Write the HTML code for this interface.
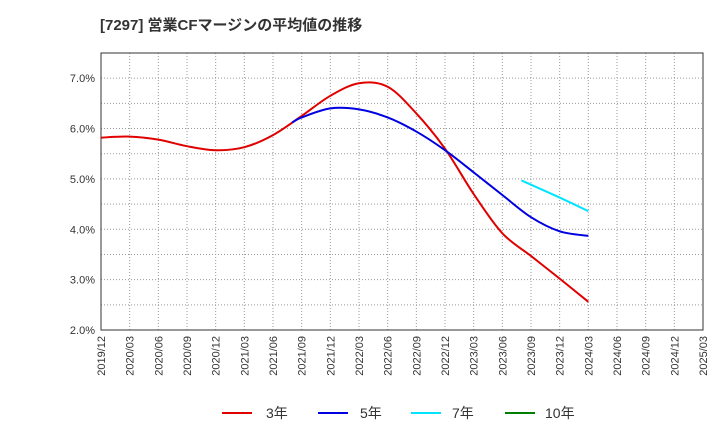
<!DOCTYPE html>
<html><head><meta charset="utf-8"><style>
body{margin:0;background:#fff;font-family:"Liberation Sans","Noto Sans CJK JP",sans-serif;}
</style></head><body>
<svg id="chart" width="720" height="440" xmlns="http://www.w3.org/2000/svg" font-family="Liberation Sans, Noto Sans CJK JP, sans-serif">
<text x="100" y="30" font-size="15" font-weight="bold" fill="#333">[7297]  営業CFマージンの平均値の推移</text>
<g id="grid"></g><g id="axes"></g><g id="series"></g>
<g font-size="14" fill="#333">
<line x1="222" y1="413" x2="252" y2="413" stroke="#e00000" stroke-width="2"/><text x="266" y="418">3年</text>
<line x1="318" y1="413" x2="348" y2="413" stroke="#0000e0" stroke-width="2"/><text x="360" y="418">5年</text>
<line x1="411" y1="413" x2="441" y2="413" stroke="#00e5ff" stroke-width="2"/><text x="452" y="418">7年</text>
<line x1="505" y1="413" x2="535" y2="413" stroke="#008000" stroke-width="2"/><text x="545" y="418">10年</text>
</g>
</svg>
<script>
const xLabels=["2019/12","2020/03","2020/06","2020/09","2020/12","2021/03","2021/06","2021/09","2021/12","2022/03","2022/06","2022/09","2022/12","2023/03","2023/06","2023/09","2023/12","2024/03","2024/06","2024/09","2024/12","2025/03"];
const yTicks=[2,3,4,5,6,7];
// month offsets from 2019/12
const red3Months=[0,3,6,9,12,15,18,21,24,27,30,33,36,39,42,45,48,51];
const red3Values=[5.82,5.84,5.78,5.65,5.57,5.63,5.87,6.25,6.65,6.9,6.83,6.3,5.6,4.7,3.92,3.47,3.02,2.56];
const blue5Months=[20,21,24,27,30,33,36,39,42,45,48,51];
const blue5Values=[6.12,6.22,6.4,6.38,6.22,5.94,5.57,5.13,4.68,4.24,3.96,3.87];
const cyan7Months=[44,48,51];
const cyan7Values=[4.97,4.63,4.36];
const L=101,R=703,T=53,B=330,ymin=2,ymax=7.5;
const xs=m=>L+m*(R-L)/63;
const ys=v=>B-(v-ymin)*(B-T)/(ymax-ymin);
const NS="http://www.w3.org/2000/svg";
function mk(tag,parent,attrs){const e=document.createElementNS(NS,tag);for(const k in attrs)e.setAttribute(k,attrs[k]);document.getElementById(parent).appendChild(e);return e;}
for(let i=0;i<xLabels.length;i++){const x=xs(i*3);
const g=mk('line','grid',{x1:x,x2:x,y1:T,y2:B,stroke:'#999','stroke-dasharray':'1,2','stroke-width':1});


const t=mk('text','axes',{x:0,y:0,'font-size':11,fill:'#333','text-anchor':'end',transform:`translate(${x+4},${B+6}) rotate(-90)`});


t.textContent=xLabels[i];}
for(let v=2.5;v<7.5;v+=0.5){const y=ys(v);
const g=mk('line','grid',{x1:L,x2:R,y1:y,y2:y,stroke:'#999','stroke-dasharray':'1,2','stroke-width':1});

}
yTicks.forEach(v=>{const t=mk('text','axes',{x:L-6,y:ys(v)+4,'font-size':11,fill:'#333','text-anchor':'end'});


t.textContent=v.toFixed(1)+'%';});
const fr=mk('rect','axes',{x:L,y:T,width:R-L,height:B-T,fill:'none',stroke:'#333','stroke-width':1});


function path(ms,vs){const p=ms.map((m,i)=>[xs(m),ys(vs[i])]);let d=`M${p[0][0]},${p[0][1]}`;
for(let i=0;i<p.length-1;i++){const p0=p[i-1]||p[i],p1=p[i],p2=p[i+1],p3=p[i+2]||p2;
d+=` C${p1[0]+(p2[0]-p0[0])/6},${p1[1]+(p2[1]-p0[1])/6} ${p2[0]-(p3[0]-p1[0])/6},${p2[1]-(p3[1]-p1[1])/6} ${p2[0]},${p2[1]}`;}return d;}
const s1=mk('path','series',{d:path(red3Months,red3Values),fill:'none',stroke:'#e00000','stroke-width':2});


const s2=mk('path','series',{d:path(blue5Months,blue5Values),fill:'none',stroke:'#0000e0','stroke-width':2});


const s3=mk('path','series',{d:path(cyan7Months,cyan7Values),fill:'none',stroke:'#00e5ff','stroke-width':2});


</script>
</body></html>
